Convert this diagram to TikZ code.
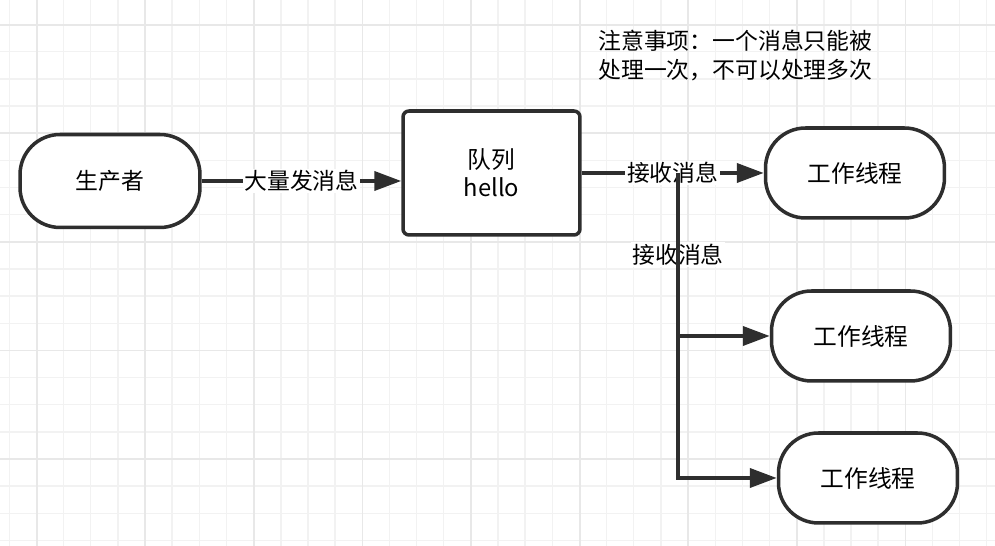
\documentclass[tikz,border=0pt]{standalone}
\usepackage{fontspec}
\setmainfont{Noto Sans CJK SC}
\usetikzlibrary{arrows.meta}

\tikzset{
  gridline/.style={draw=black!5, line width=0.8pt},
  majorline/.style={draw=black!9, line width=1pt},
  pill/.style={draw=black!82, line width=2pt, fill=white, rounded corners=0.8cm,
    minimum width=3.58cm, minimum height=1.8cm, font=\fontsize{13.5pt}{15pt}\selectfont},
  queuebox/.style={draw=black!82, line width=2pt, fill=white, rounded corners=0.12cm,
    minimum width=3.54cm, minimum height=2.48cm, align=center,
    font=\fontsize{13.5pt}{16pt}\selectfont},
  flow/.style={draw=black!82, line width=2.2pt, -{Triangle[length=0.54cm, width=0.38cm]}},
  msg/.style={fill=white, inner sep=1pt, font=\fontsize{13pt}{14pt}\selectfont}
}

\begin{document}
\begin{tikzpicture}[x=0.02cm, y=-0.02cm]
\useasboundingbox (0,0) rectangle (995,546);
\fill[white] (0,0) rectangle (995,546);
% grid
\foreach \k in {0,...,36} \draw[gridline] ({9.3+27.15*\k},0) -- ({9.3+27.15*\k},546);
\foreach \k in {0,...,19} \draw[gridline] (0,{24.65+27.15*\k}) -- (995,{24.65+27.15*\k});
\foreach \k in {0,...,8} \draw[majorline] ({36.7+108.6*\k},0) -- ({36.7+108.6*\k},546);
\foreach \k in {0,...,4} \draw[majorline] (0,{24.65+108.6*\k}) -- (995,{24.65+108.6*\k});

\node[pill, minimum width=3.6cm, minimum height=1.86cm, font=\fontsize{13pt}{14pt}\selectfont] (producer) at (110,181) {生产者};
\node[queuebox] (queue) at (491.5,173) {队列\\hello};
\node[pill] (worker1) at (855,173) {工作线程};
\node[pill] (worker2) at (861,336) {工作线程};
\node[pill] (worker3) at (868,478) {工作线程};
\node[anchor=north west, align=left, inner sep=0pt, font=\fontsize{13pt}{16.5pt}\selectfont] (note) at (598,30) {注意事项：一个消息只能被\\处理一次，不可以处理多次};

\draw[flow] (producer.east) -- node[msg, font=\fontsize{13pt}{14pt}\selectfont]{大量发消息} (producer.east -| queue.west);
\draw[flow] (queue) -- node[msg]{接收消息} (worker1);
\coordinate (split) at (678,173);
\draw[flow] (split) |- node[msg, pos=0.25]{接收消息} (worker2);
\draw[flow] (split) |- (worker3);
\end{tikzpicture}
\end{document}
